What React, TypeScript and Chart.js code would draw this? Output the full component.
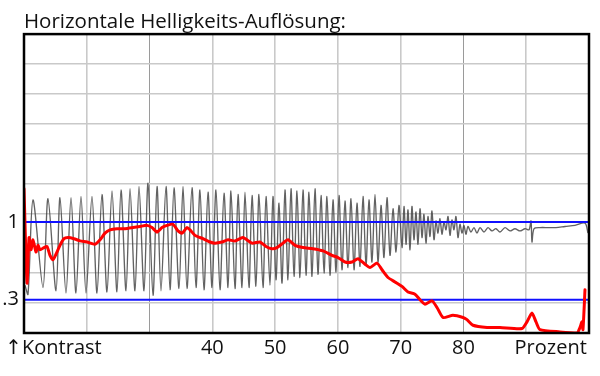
import { useEffect, useRef } from 'react';
import { Chart, registerables } from 'chart.js';

Chart.register(...registerables);

// Red curve: contrast (modulation) vs percent
const redX = [10.0, 10.48, 10.8, 11.11, 11.43, 11.91, 12.23, 12.55, 13.19, 13.66, 14.14, 14.62, 15.1, 15.73, 16.37, 17.01, 17.96, 18.92, 20.04, 21.31, 22.11, 22.9, 23.7, 24.81, 26.09, 27.36, 28.48, 29.59, 30.39, 31.19, 31.98, 32.78, 33.73, 34.53, 35.17, 35.96, 36.44, 37.24, 38.51, 39.63, 40.42, 41.54, 42.5, 43.61, 44.88, 46.32, 47.59, 48.55, 49.5, 50.3, 51.26, 52.05, 53.17, 54.44, 56.03, 57.63, 59.06, 60.02, 61.13, 62.25, 63.2, 64.32, 65.11, 66.23, 67.03, 67.98, 69.1, 70.21, 71.17, 72.28, 73.08, 73.88, 74.99, 75.79, 76.74, 78.33, 79.93, 80.56, 81.52, 83.75, 85.82, 89.33, 90.12, 90.92, 91.56, 92.19, 95.38, 98.09, 98.57, 98.88, 99.04, 99.36];
const redY = [1.3, 0.45, 0.86, 0.75, 0.84, 0.73, 0.79, 0.75, 0.77, 0.78, 0.7, 0.66, 0.71, 0.79, 0.85, 0.86, 0.85, 0.83, 0.82, 0.8, 0.84, 0.9, 0.93, 0.94, 0.94, 0.95, 0.96, 0.97, 0.95, 0.91, 0.95, 0.97, 0.98, 0.92, 0.9, 0.95, 0.93, 0.88, 0.85, 0.82, 0.81, 0.82, 0.84, 0.83, 0.86, 0.81, 0.82, 0.78, 0.76, 0.77, 0.81, 0.84, 0.79, 0.77, 0.76, 0.74, 0.7, 0.68, 0.64, 0.64, 0.67, 0.62, 0.59, 0.63, 0.57, 0.5, 0.46, 0.42, 0.37, 0.35, 0.3, 0.26, 0.29, 0.23, 0.14, 0.16, 0.14, 0.12, 0.07, 0.05, 0.05, 0.04, 0.1, 0.18, 0.1, 0.03, 0.01, 0.0, 0.05, 0.1, 0.03, 0.39];

// Gray curve: measured brightness signal (peaks and troughs)
const grayX = [10.16, 10.64, 11.43, 13.03, 13.82, 15.1, 15.73, 16.69, 17.49, 18.28, 19.08, 19.88, 20.83, 21.63, 22.42, 23.22, 24.02, 24.81, 25.45, 26.25, 26.89, 27.68, 28.32, 29.12, 29.75, 30.55, 31.19, 31.82, 32.62, 33.26, 33.89, 34.69, 35.33, 35.96, 36.76, 37.4,
  38.03, 38.67, 39.31, 39.95, 40.58, 41.22, 41.86, 42.5, 42.97, 43.61, 44.09, 44.73, 45.2, 45.84, 46.32, 46.95, 47.43, 48.07, 48.55, 49.18, 49.66,
  50.14, 50.62, 51.1, 51.57, 52.05, 52.53, 53.01, 53.49, 53.96, 54.44, 54.92, 55.4, 55.88, 56.35, 56.83, 57.31, 57.79, 58.26, 58.74, 59.22, 59.7, 60.18, 60.65, 61.13, 61.61, 62.09, 62.57, 63.04, 63.52, 64.0, 64.48, 64.95, 65.43, 65.91, 66.39, 66.87, 67.34, 67.82, 68.3, 68.78, 69.26, 69.73,
  70.21, 70.53, 70.85, 71.17, 71.49, 71.8, 72.12, 72.44, 72.76, 73.08, 73.4, 73.71, 74.03, 74.35, 74.67, 74.99, 75.31, 75.63, 75.94, 76.26, 76.58, 76.9, 77.22, 77.54, 77.86, 78.17, 78.49, 78.81, 79.13, 79.45, 79.77, 80.08, 80.4, 80.72, 81.2, 81.68, 82.16, 82.63, 83.27, 83.91, 84.55, 85.18, 85.82, 86.62, 87.42, 88.21, 89.01, 89.81, 90.44, 90.76, 90.92, 91.24, 92.19, 93.47, 94.74, 96.18, 97.77, 99.36, 99.84];
const grayY = [0.43, 0.35, 1.2, 0.41, 1.21, 0.38, 1.22, 0.36, 1.22, 0.36, 1.23, 0.36, 1.23, 0.36, 1.25, 0.37, 1.28, 0.37, 1.29, 0.38, 1.3, 0.38, 1.32, 0.38, 1.35, 0.34, 1.32, 0.38, 1.32, 0.39, 1.31, 0.4, 1.32, 0.4, 1.31, 0.41,
  1.29, 0.39, 1.27, 0.41, 1.29, 0.39, 1.26, 0.41, 1.28, 0.4, 1.25, 0.41, 1.27, 0.41, 1.24, 0.42, 1.25, 0.41, 1.23, 0.43, 1.23,
  0.48, 1.17, 0.45, 1.29, 0.48, 1.3, 0.51, 1.28, 0.5, 1.29, 0.52, 1.27, 0.51, 1.3, 0.53, 1.24, 0.54, 1.23, 0.52, 1.2, 0.55, 1.24, 0.57, 1.19, 0.59, 1.21, 0.57, 1.17, 0.6, 1.23, 0.61, 1.2, 0.64, 1.25, 0.64, 1.15, 0.68, 1.22, 0.7, 1.12, 0.73, 1.15,
  0.77, 1.14, 0.8, 1.11, 0.75, 1.14, 0.84, 1.09, 0.8, 1.12, 0.86, 1.07, 0.81, 1.05, 0.87, 1.1, 0.84, 1.01, 0.9, 1.03, 0.89, 1.0, 0.93, 1.05, 0.88, 1.02, 0.93, 1.05, 0.86, 0.98, 0.9, 0.97, 0.89, 0.96, 0.91, 0.95, 0.9, 0.95, 0.91, 0.95, 0.92, 0.94, 0.91, 0.95, 0.92, 0.94, 0.92, 0.94, 0.93, 1.01, 0.82, 0.94, 0.95, 0.95, 0.95, 0.96, 0.97, 0.99, 0.9];

// Axis ticks
const xGridValues = [10, 20, 30, 40, 50, 60, 70, 80, 90, 100];
const xNumberLabels = [40, 50, 60, 70, 80];
const xStartLabel = '↑Kontrast';
const xEndLabel = 'Prozent';
const yGridValues = [0, 0.2694, 0.5388, 0.8082, 1.0776, 1.347, 1.6164, 1.8858, 2.1552, 2.4246, 2.694];
const yRefValues = [0.3, 1];
const yRefLabels = ['.3', '1'];
const titleText = 'Horizontale Helligkeits-Auflösung:';

const FONT = '"Open Sans", "DejaVu Sans", sans-serif';
const X_START_POS = 14.7;
const X_END_POS = 93.9;

export default function App() {
  const ref = useRef<HTMLCanvasElement>(null);

  useEffect(() => {
    const canvas = ref.current;
    if (!canvas) return;

    const frame = {
      id: 'frame',
      afterDatasetsDraw(chart: any) {
        const { ctx, chartArea: a } = chart;
        ctx.save();
        ctx.strokeStyle = '#000';
        ctx.lineWidth = 2.5;
        ctx.strokeRect(a.left, a.top, a.right - a.left, a.bottom - a.top);
        ctx.restore();
      },
    };

    const red = redX.map((x, i) => ({ x, y: redY[i] }));
    const gray = grayX.map((x, i) => ({ x, y: grayY[i] }));

    const chart = new Chart(canvas, {
      type: 'line',
      data: {
        datasets: [
          { label: 'Kontrast', data: red, borderColor: '#ff0000', borderWidth: 3, borderJoinStyle: 'round', borderCapStyle: 'round', tension: 0.2, order: 0 } as any,
          ...yRefValues.map((v) => ({
            label: 'ref ' + v,
            data: [{ x: 10, y: v }, { x: 100, y: v }],
            borderColor: '#1010ff',
            borderWidth: 2,
            order: 1,
          })),
          { label: 'Signal', data: gray, borderColor: 'rgba(70,70,70,0.85)', borderWidth: 1.35, tension: 0.3, order: 2 } as any,
        ],
      },
      options: {
        responsive: true,
        maintainAspectRatio: false,
        animation: false,
        layout: { padding: { left: 0, right: 11, top: 0, bottom: 0 } },
        elements: { point: { radius: 0 }, line: { tension: 0 } },
        plugins: {
          legend: { display: false },
          tooltip: { enabled: false },
          title: {
            display: true,
            text: titleText,
            align: 'start',
            fullSize: false,
            color: '#111',
            font: { family: FONT, size: 20.5, weight: 'normal', lineHeight: 1.2 },
            padding: { top: 9.5, bottom: 0 },
          },
        },
        scales: {
          x: {
            type: 'linear',
            min: 10,
            max: 100,
            afterBuildTicks: (s: any) => {
              const vals = [...xGridValues, X_START_POS, X_END_POS].sort((a, b) => a - b);
              s.ticks = vals.map((value) => ({ value }));
            },
            afterFit: (s: any) => { s.height = 43; },
            border: { display: false },
            grid: {
              drawTicks: false,
              color: (c: any) => {
                const v = c.tick?.value;
                if (v === X_START_POS || v === X_END_POS) return 'rgba(0,0,0,0)';
                if (v === 30 || v === 80) return '#9a9a9a';
                return '#c9c9c9';
              },
              lineWidth: (c: any) => {
                const v = c.tick?.value;
                return v === 30 || v === 80 ? 1 : 1.6;
              },
            },
            ticks: {
              autoSkip: false,
              maxRotation: 0,
              minRotation: 0,
              padding: 3,
              color: '#111',
              font: { family: FONT, size: 20 },
              callback: (v: any) => {
                if (v === X_START_POS) return xStartLabel;
                if (v === X_END_POS) return xEndLabel;
                if (xNumberLabels.includes(v)) return String(v);
                return '';
              },
            },
          },
          y: {
            type: 'linear',
            min: 0,
            max: 2.694,
            afterBuildTicks: (s: any) => {
              const vals = [...yGridValues, ...yRefValues].sort((a, b) => a - b);
              s.ticks = vals.map((value) => ({ value }));
            },
            afterFit: (s: any) => { s.width = 24; },
            border: { display: false },
            grid: {
              drawTicks: false,
              color: (c: any) => (yRefValues.includes(c.tick?.value) ? 'rgba(0,0,0,0)' : '#c9c9c9'),
              lineWidth: 1.6,
            },
            ticks: {
              autoSkip: false,
              padding: 5,
              color: '#111',
              font: { family: FONT, size: 20 },
              callback: (v: any) => {
                const i = yRefValues.indexOf(v);
                return i >= 0 ? yRefLabels[i] : '';
              },
            },
          },
        },
      },
      plugins: [frame],
    } as any);

    return () => chart.destroy();
  }, []);

  return (
    <div style={{ position: 'absolute', left: 0, top: 0, width: 600, height: 376, background: '#fff' }}>
      <canvas ref={ref} />
    </div>
  );
}
